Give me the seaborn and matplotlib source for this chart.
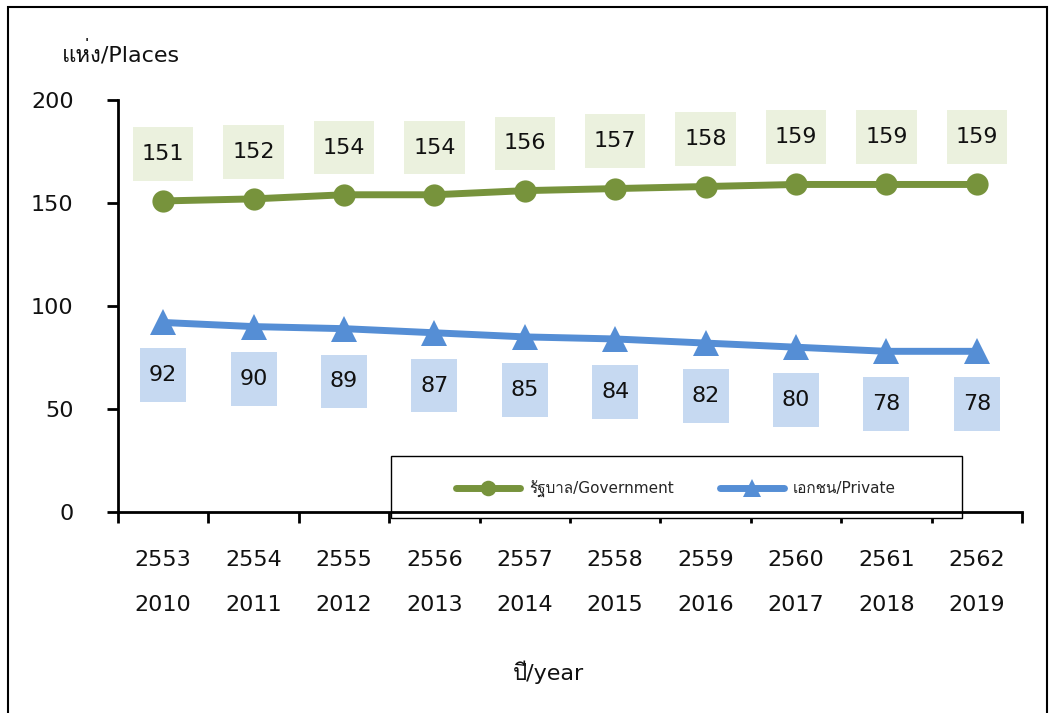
import matplotlib
matplotlib.use("Agg")
import matplotlib.pyplot as plt
import seaborn as sns
import pandas as pd
from matplotlib import font_manager
from matplotlib.ft2font import FT2Font
from matplotlib.patches import Rectangle

years_be = ["2553", "2554", "2555", "2556", "2557", "2558", "2559", "2560", "2561", "2562"]
years_ce = ["2010", "2011", "2012", "2013", "2014", "2015", "2016", "2017", "2018", "2019"]
government = [151, 152, 154, 154, 156, 157, 158, 159, 159, 159]
private = [92, 90, 89, 87, 85, 84, 82, 80, 78, 78]

GREEN = "#77933c"
BLUE = "#558ed5"

# look for an installed family that has Thai glyphs
thai_family = None
for f in font_manager.fontManager.ttflist:
    try:
        if 0x0E01 in FT2Font(f.fname).get_charmap():
            thai_family = f.name
            break
    except Exception:
        pass

sns.set_style("white")
families = ["DejaVu Sans"]
if thai_family:
    families.append(thai_family)
plt.rcParams["font.family"] = families

df = pd.DataFrame({"idx": range(len(years_be)), "gov": government, "priv": private})

fig = plt.figure(figsize=(10.55, 7.13), dpi=100)
ax = fig.add_axes([118 / 1055, 1 - 512 / 713, 904 / 1055, 412 / 713])

sns.lineplot(data=df, x="idx", y="gov", ax=ax, color=GREEN, lw=5, marker="o",
             markersize=16, markeredgewidth=0, label="รัฐบาล/Government")
sns.lineplot(data=df, x="idx", y="priv", ax=ax, color=BLUE, lw=5, marker="^",
             markersize=19, markeredgewidth=0, label="เอกชน/Private")

for i, v in enumerate(government):
    ax.annotate(str(v), (i, v), xytext=(0, 34), textcoords="offset points",
                ha="center", va="center", fontsize=16, color="#111111",
                bbox=dict(boxstyle="square,pad=0.4", fc="#ebf1de", ec="none",
                          mutation_aspect=1.9))
for i, v in enumerate(private):
    ax.annotate(str(v), (i, v), xytext=(0, -38), textcoords="offset points",
                ha="center", va="center", fontsize=16, color="#111111",
                bbox=dict(boxstyle="square,pad=0.4", fc="#c6d9f1", ec="none",
                          mutation_aspect=1.9))

ax.set_xlim(-0.5, len(years_be) - 0.5)
ax.set_ylim(0, 200)
ax.set_yticks([0, 50, 100, 150, 200])
ax.set_xticks(range(len(years_be)))
ax.set_xticklabels([f"{a}\n{b}" for a, b in zip(years_be, years_ce)], linespacing=2.6)
ax.set_xticks([i - 0.5 for i in range(len(years_be) + 1)], minor=True)
ax.tick_params(bottom=True, left=True, which="both")
ax.tick_params(axis="x", which="major", length=0, pad=27, labelsize=16, labelcolor="#111111")
ax.tick_params(axis="x", which="minor", length=8, width=2, direction="out", color="black")
ax.tick_params(axis="y", which="major", length=8, width=2, direction="out",
               color="black", labelsize=16, pad=24, labelcolor="#111111")
for s in ["top", "right"]:
    ax.spines[s].set_visible(False)
for s in ["left", "bottom"]:
    ax.spines[s].set_color("black")
    ax.spines[s].set_linewidth(2)
    ax.spines[s].set_zorder(5)
ax.set_xlabel("")
ax.set_ylabel("")

fig.text(62 / 1055, 1 - 53 / 713, "แห่ง/Places", fontsize=16, ha="left", va="center", color="#111111")
fig.text(548 / 1055, 1 - 672 / 713, "ปี/year", fontsize=16, ha="center", va="center", color="#111111")

# legend box drawn separately, entries centred inside it
ax.add_patch(Rectangle((273 / 904, -6 / 412), 571 / 904, 62 / 412, transform=ax.transAxes,
                       fc="white", ec="black", lw=1, clip_on=False, zorder=4))
leg = ax.legend(loc="center", bbox_to_anchor=(558 / 904, 23 / 412), ncol=2, fontsize=11,
                frameon=False, handlelength=4.2, handletextpad=0.6, columnspacing=3.0,
                markerscale=0.7)
leg.set_zorder(6)

fig.patches.append(Rectangle((8 / 1055, -0.1), 1039 / 1055, 1.1 - 7 / 713,
                             transform=fig.transFigure, fill=False, ec="black", lw=1.5))

fig.savefig("out.png", dpi=100)
